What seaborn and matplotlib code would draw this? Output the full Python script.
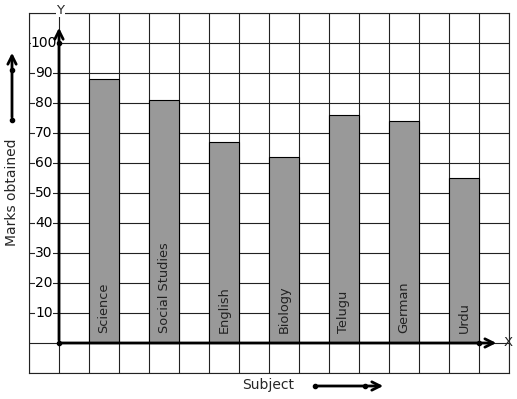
import numpy as np
import pandas as pd
import seaborn as sns
import matplotlib
matplotlib.use('Agg')
import matplotlib.pyplot as plt

# ---- Data ----
subjects = ['Science', 'Social Studies', 'English', 'Biology', 'Telugu', 'German', 'Urdu']
marks = [88, 81, 67, 62, 76, 74, 55]
y_ticks = [10, 20, 30, 40, 50, 60, 70, 80, 90, 100]

# bars sit in every other grid cell, starting one cell right of the y axis
pos = 1.5 + 2 * np.arange(len(subjects))
df = pd.DataFrame({'pos': pos, 'marks': marks, 'subject': subjects})

# ---- Figure ----
sns.set_style('white')
plt.rcParams['font.family'] = ['DejaVu Sans']
fig = plt.figure(figsize=(5.17, 3.99), dpi=100)
ax = fig.add_axes([29 / 517, 26 / 399, 480 / 517, 360 / 399])

sns.barplot(data=df, x='pos', y='marks', native_scale=True, width=0.5,
            color='#999999', saturation=1, edgecolor='black', linewidth=0.8, ax=ax)

ax.set_xlim(-1, 15)
ax.set_ylim(-10, 110)
ax.set_xticks(np.arange(-1, 16, 1))
ax.set_yticks(np.arange(-10, 111, 10))
ax.grid(True, color='#222222', linewidth=0.8)
ax.set_axisbelow(True)
ax.tick_params(length=0, labelbottom=False, labelleft=False)
for s in ax.spines.values():
    s.set_color('#222222')
    s.set_linewidth(0.8)
ax.set_xlabel('')
ax.set_ylabel('')

# subject names written up inside the bars
for p, name in zip(pos, subjects):
    ax.text(p, 3.3, name, rotation=90, ha='center', va='bottom', fontsize=9.3, color='#222222')

# y tick labels inside the first column
for v in y_ticks:
    ax.text(-0.5, v, str(v), ha='center', va='center', fontsize=10, color='black',
            bbox=dict(facecolor='white', edgecolor='none', pad=0.1), zorder=1)

# axes with arrows
ax.annotate('', xy=(0, 106), xytext=(0, 0),
            arrowprops=dict(arrowstyle='->', lw=2, color='black', mutation_scale=15),
            annotation_clip=False, zorder=4)
ax.annotate('', xy=(14.67, 0), xytext=(0, 0),
            arrowprops=dict(arrowstyle='->', lw=2, color='black', mutation_scale=15),
            annotation_clip=False, zorder=4)
ax.plot([0, 0, 14], [0, 100, 0], 'o', color='black', markersize=3, clip_on=False, zorder=5)
ax.text(0.05, 111, 'Y', ha='center', va='center', fontsize=9.5,
        bbox=dict(facecolor='white', edgecolor='none', pad=0.5))
ax.text(14.97, 0, 'X', ha='center', va='center', fontsize=9.5)

# axis titles with their little arrows
fig.text(12 / 517, 1 - 192 / 399, 'Marks obtained', rotation=90, ha='center', va='center', fontsize=10)
fig.text(268 / 517, 1 - 385 / 399, 'Subject', ha='center', va='center', fontsize=10)
fig.add_artist(matplotlib.patches.FancyArrowPatch((12 / 517, 1 - 120 / 399), (12 / 517, 1 - 50 / 399),
               transform=fig.transFigure, arrowstyle='->', lw=2, color='black', mutation_scale=15))
fig.add_artist(matplotlib.patches.FancyArrowPatch((315 / 517, 1 - 386 / 399), (386 / 517, 1 - 386 / 399),
               transform=fig.transFigure, arrowstyle='->', lw=2, color='black', mutation_scale=15))
fig.add_artist(matplotlib.lines.Line2D([12 / 517, 12 / 517], [1 - 120 / 399, 1 - 70 / 399], transform=fig.transFigure,
               marker='o', linestyle='none', color='black', markersize=3))
fig.add_artist(matplotlib.lines.Line2D([315 / 517, 365 / 517], [1 - 386 / 399, 1 - 386 / 399], transform=fig.transFigure,
               marker='o', linestyle='none', color='black', markersize=3))

fig.savefig('out.png', dpi=100)
